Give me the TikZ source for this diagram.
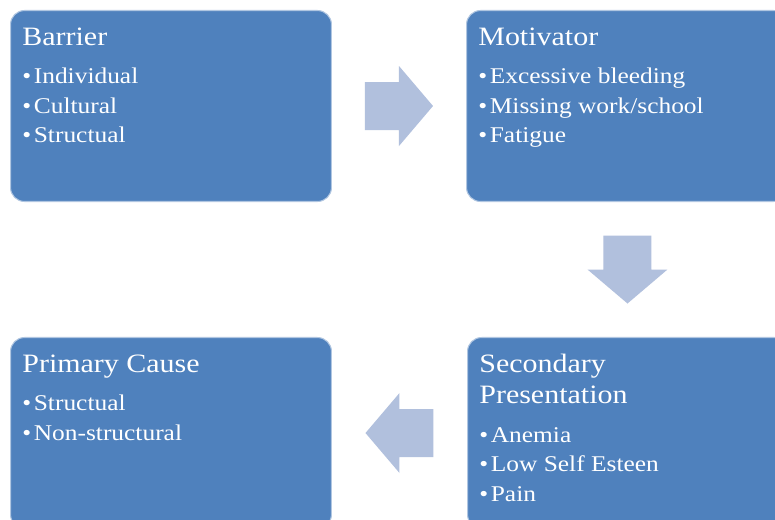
\documentclass[tikz,border=0pt]{standalone}
\usepackage{fontspec}
\setmainfont{Liberation Serif}[FakeStretch=1.13]
\usetikzlibrary{calc}

\definecolor{boxblue}{HTML}{4F81BD}
\definecolor{arrowblue}{RGB}{177,192,221}

\tikzset{
  card/.style={draw=white!55!boxblue, line width=0.6pt, fill=boxblue,
    rounded corners=0.28cm, minimum width=6.42cm, minimum height=3.82cm,
    anchor=north west, inner sep=0pt},
  cardtitle/.style={anchor=base west, inner sep=0pt, text=white,
    font=\fontsize{15.1}{18}\selectfont},
  carditem/.style={anchor=base west, inner sep=0pt, text=white,
    font=\fontsize{12.8}{15}\selectfont},
  % fat arrow pointing along +x, centred on the pic origin
  pics/blockarrow/.style={code={
    \fill[arrowblue] (-34,-24) -- (0,-24) -- (0,-40) -- (34,0)
      -- (0,40) -- (0,24) -- (-34,24) -- cycle;}}
}

% title lines and bullet items of one card
\newcommand\cardtext[3]{%
  \foreach \t [count=\i] in {#2}{
    \node[cardtitle] (#1-title-\i) at ([shift={(12,5+31*\i)}]#1.north west) {\t};
    \xdef\lasttitle{\i}
  }
  \foreach \t [count=\i] in {#3}
    \node[carditem] (#1-item-\i)
      at ([shift={(12,13.5+31*\lasttitle+29.5*\i)}]#1.north west) {•\kern1.5pt\t};
}

\begin{document}
\begin{tikzpicture}[x=0.02cm,y=-0.02cm,line join=round]
\path[use as bounding box, fill=white] (0,0) rectangle (775,520);

\node[card] (barrier) at (10,10) {};
\node[card] (motivator) at (466,10) {};
\node[card] (secondary) at (467,337) {};
\node[card] (primary) at (10,337) {};

\cardtext{barrier}{Barrier}{Individual,Cultural,Structual}
\cardtext{motivator}{Motivator}{Excessive bleeding,{Missing work/school},Fatigue}
\cardtext{secondary}{Secondary,Presentation}{Anemia,Low Self Esteen,Pain}
\cardtext{primary}{Primary Cause}{Structual,Non-structural}

% arrows between the cards
\pic at ($(barrier.east)!0.5!(motivator.west)$) {blockarrow};
\pic[rotate=-90] at ($(motivator.south)!0.5!(secondary.north)$) {blockarrow};
\pic[rotate=180] at ($(secondary.west)!0.5!(primary.east)$) {blockarrow};

\end{tikzpicture}
\end{document}
